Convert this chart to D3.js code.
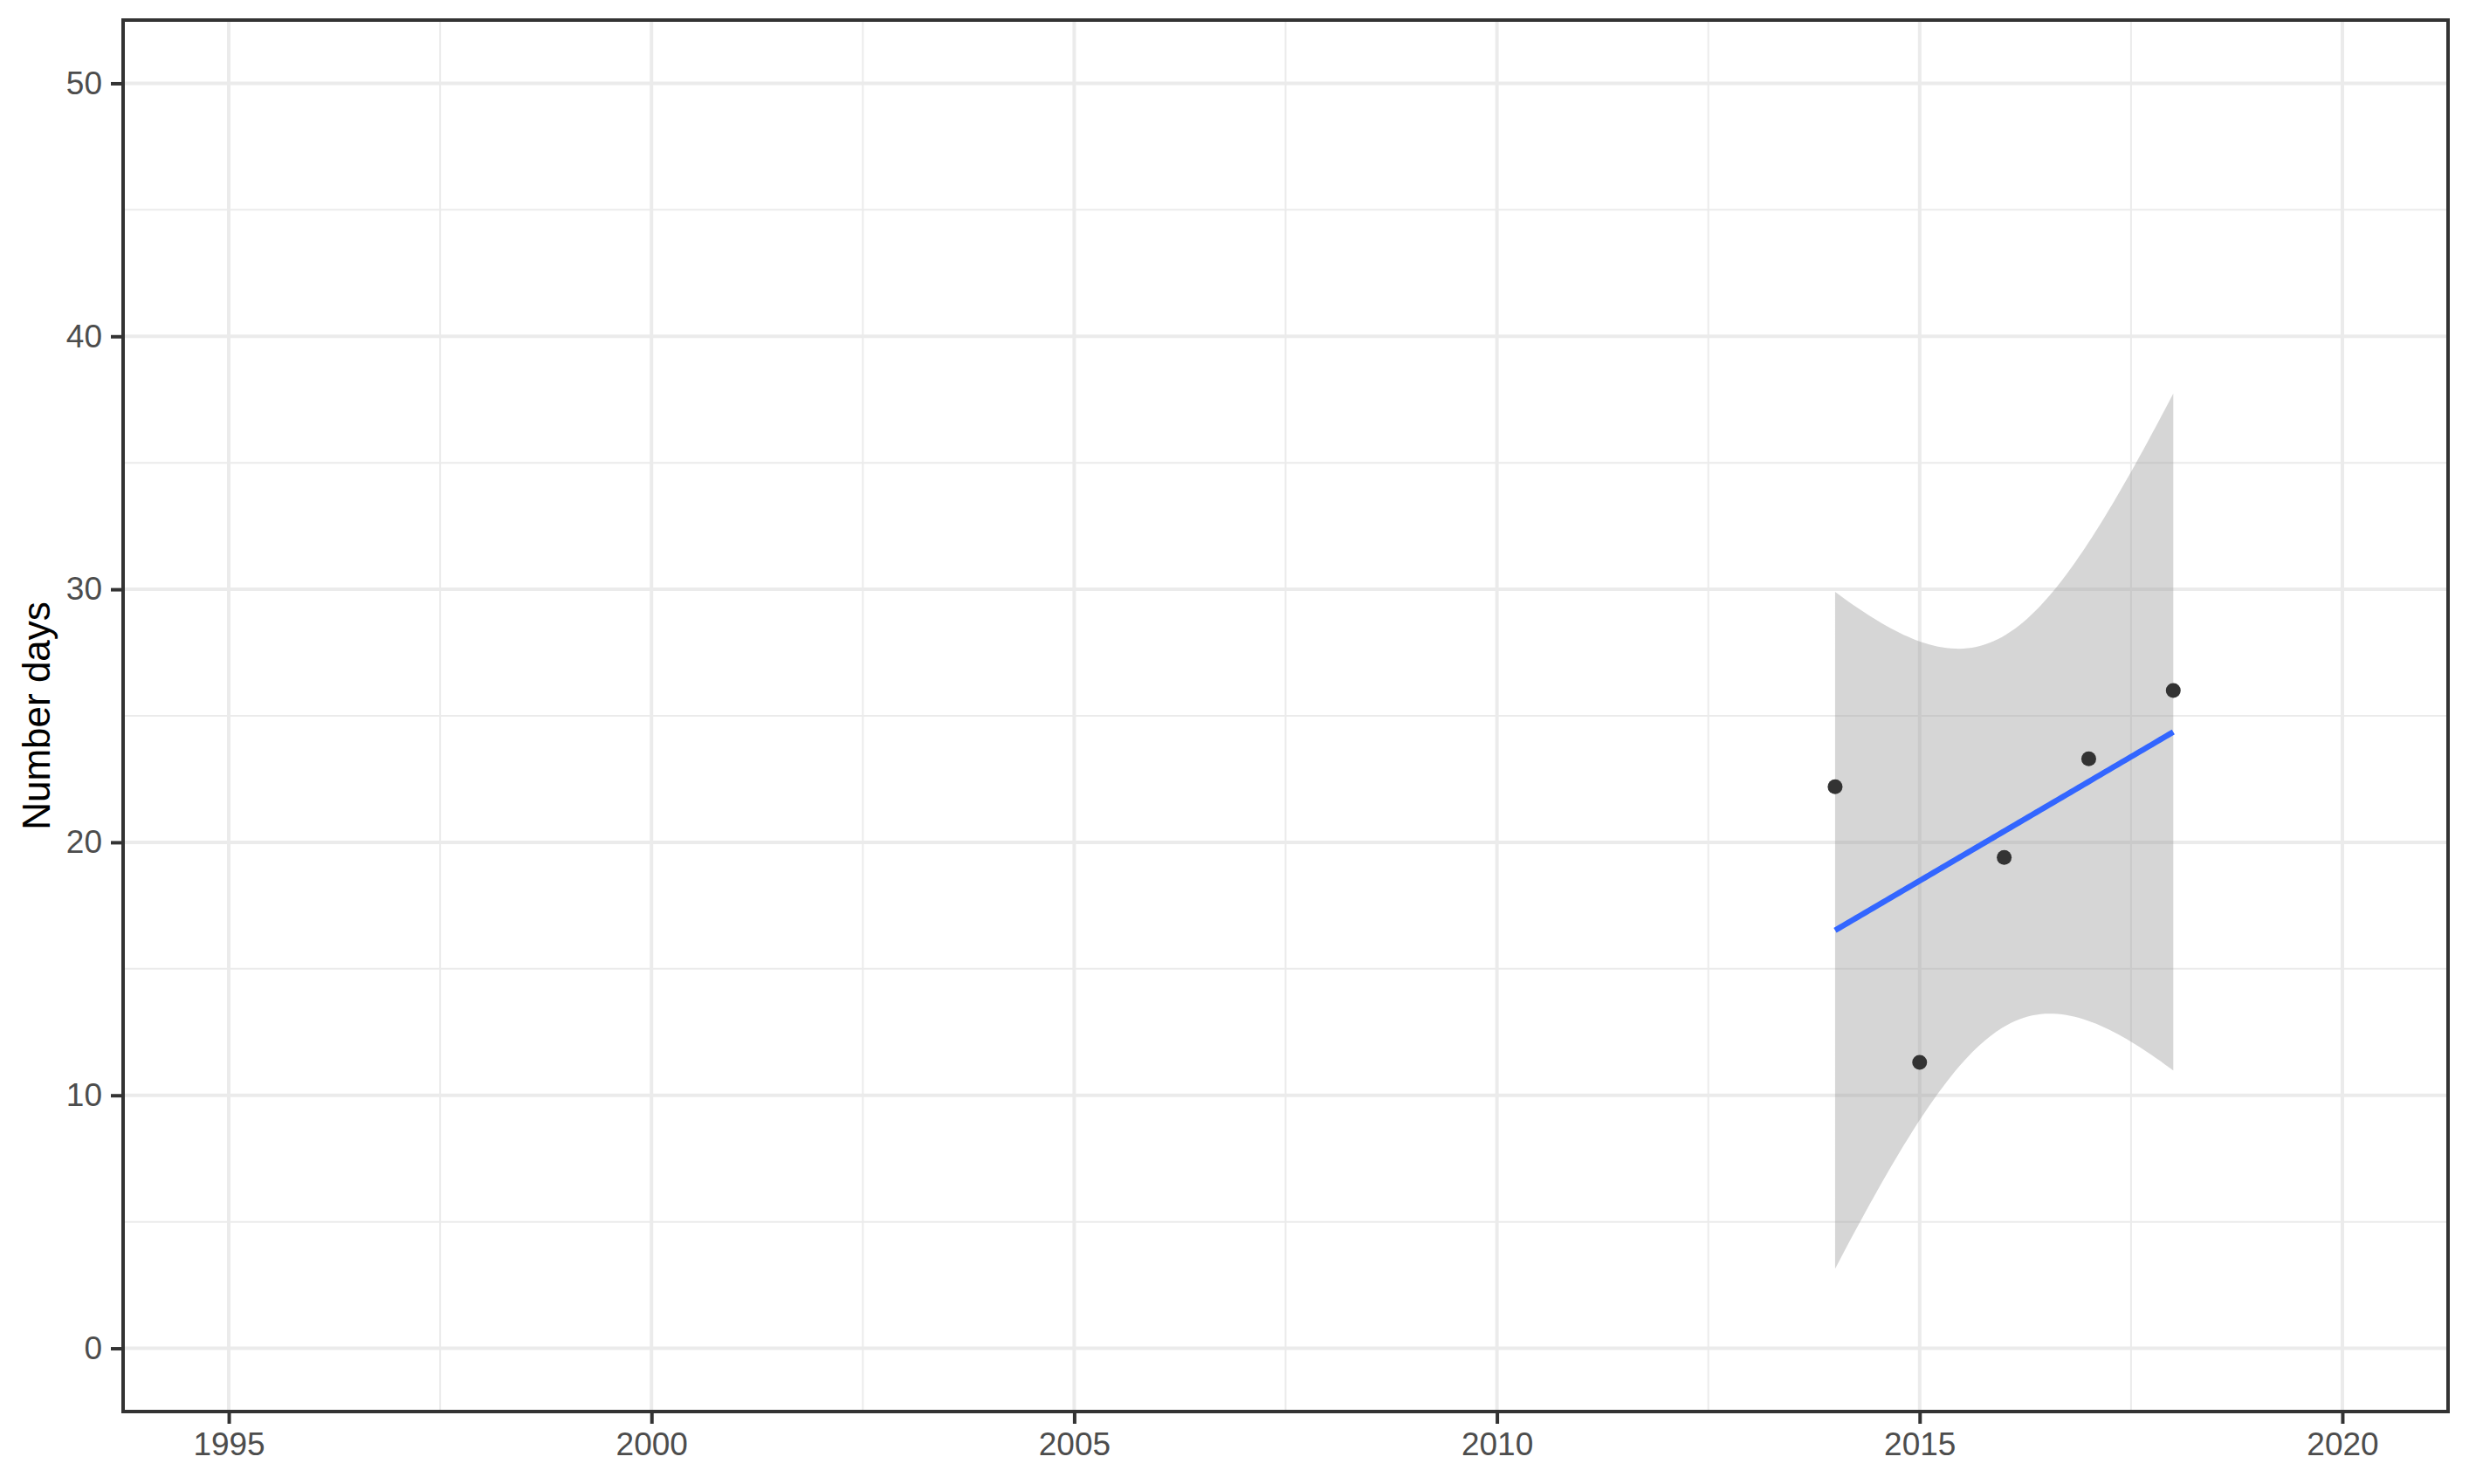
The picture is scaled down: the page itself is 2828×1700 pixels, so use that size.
<!DOCTYPE html>
<html><head><meta charset="utf-8">
<script src="https://cdn.jsdelivr.net/npm/d3@7"></script>
<style>body{margin:0;background:#fff}</style>
</head><body>
<svg id="c" width="2828" height="1700"></svg>
<script>
// ---- data ----
const years = [2014, 2015, 2016, 2017, 2018];
const days = [22.2, 11.3, 19.4, 23.3, 26.0];
const xTicks = [1995, 2000, 2005, 2010, 2015, 2020];
const yTicks = [0, 10, 20, 30, 40, 50];
const xMinor = [1997.5, 2002.5, 2007.5, 2012.5, 2017.5];
const yMinor = [5, 15, 25, 35, 45];
const yTitle = "Number days";
const xRange = [1995, 2020];
const yRange = [0, 50];
const t975 = 3.182446; // Student t 0.975 quantile, df = n - 2 = 3

// ---- layout ----
const W = 2828, H = 1700;
const P = {l: 141, t: 23, r: 2804, b: 1617};
const svg = d3.select("#c");
const font = "'Liberation Sans', Arial, sans-serif";

const xe = (xRange[1]-xRange[0])*0.05, ye = (yRange[1]-yRange[0])*0.05;
const x = d3.scaleLinear().domain([xRange[0]-xe, xRange[1]+xe]).range([P.l, P.r]);
const y = d3.scaleLinear().domain([yRange[0]-ye, yRange[1]+ye]).range([P.b, P.t]);

svg.append("rect").attr("width", W).attr("height", H).attr("fill", "#fff");

// grid
const g = svg.append("g");
g.selectAll(".xm").data(xMinor).join("line")
  .attr("x1", d=>x(d)).attr("x2", d=>x(d)).attr("y1", P.t).attr("y2", P.b)
  .attr("stroke", "#ebebeb").attr("stroke-width", 2);
g.selectAll(".ym").data(yMinor).join("line")
  .attr("y1", d=>y(d)).attr("y2", d=>y(d)).attr("x1", P.l).attr("x2", P.r)
  .attr("stroke", "#ebebeb").attr("stroke-width", 2);
g.selectAll(".xM").data(xTicks).join("line")
  .attr("x1", d=>x(d)).attr("x2", d=>x(d)).attr("y1", P.t).attr("y2", P.b)
  .attr("stroke", "#ebebeb").attr("stroke-width", 4);
g.selectAll(".yM").data(yTicks).join("line")
  .attr("y1", d=>y(d)).attr("y2", d=>y(d)).attr("x1", P.l).attr("x2", P.r)
  .attr("stroke", "#ebebeb").attr("stroke-width", 4);

// linear fit with 95% CI (as geom_smooth(method = "lm"))
const n = years.length;
const mx = d3.mean(years), my = d3.mean(days);
const sxx = d3.sum(years, v => (v-mx)*(v-mx));
const sxy = d3.sum(years.map((v,i) => (v-mx)*(days[i]-my)));
const slope = sxy/sxx, icpt = my - slope*mx;
const sse = d3.sum(years.map((v,i) => Math.pow(days[i] - (icpt + slope*v), 2)));
const s = Math.sqrt(sse/(n-2));
const xs = d3.range(80).map(i => d3.min(years) + i*(d3.max(years)-d3.min(years))/79);
const fit = xs.map(v => {
  const f = icpt + slope*v;
  const se = s*Math.sqrt(1/n + (v-mx)*(v-mx)/sxx);
  return {x: v, f, lo: f - t975*se, hi: f + t975*se};
});

svg.append("path").datum(fit)
  .attr("d", d3.area().x(d=>x(d.x)).y0(d=>y(d.lo)).y1(d=>y(d.hi)))
  .attr("fill", "#999999").attr("fill-opacity", 0.4);

svg.append("path").datum(fit)
  .attr("d", d3.line().x(d=>x(d.x)).y(d=>y(d.f)))
  .attr("fill", "none").attr("stroke", "#3366FF").attr("stroke-width", 6.5);

// points
svg.selectAll(".pt").data(years).join("circle")
  .attr("cx", d=>x(d)).attr("cy", (d,i)=>y(days[i])).attr("r", 8.5)
  .attr("fill", "#333333");

// panel border
svg.append("rect").attr("x", P.l).attr("y", P.t)
  .attr("width", P.r-P.l).attr("height", P.b-P.t)
  .attr("fill", "none").attr("stroke", "#333333").attr("stroke-width", 4);

// axes
const xAxis = svg.append("g").attr("transform", `translate(0,${P.b+2})`)
  .call(d3.axisBottom(x).tickValues(xTicks).tickFormat(d3.format("d")).tickSize(12).tickPadding(10));
const yAxis = svg.append("g").attr("transform", `translate(${P.l-2},0)`)
  .call(d3.axisLeft(y).tickValues(yTicks).tickFormat(d3.format("d")).tickSize(12).tickPadding(10));
[xAxis, yAxis].forEach(a => {
  a.select(".domain").remove();
  a.selectAll(".tick line").attr("stroke", "#333333").attr("stroke-width", 4);
  a.selectAll(".tick text").attr("fill", "#4d4d4d").attr("font-size", 37).attr("font-family", font);
});

svg.append("text")
  .attr("transform", `translate(57,${(P.t+P.b)/2}) rotate(-90)`)
  .attr("text-anchor", "middle").attr("font-size", 44).attr("font-family", font)
  .attr("fill", "#000").text(yTitle);
</script>
</body></html>
